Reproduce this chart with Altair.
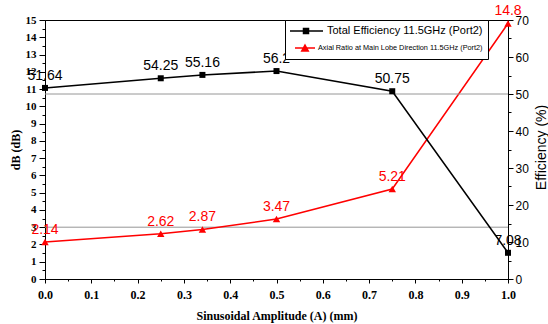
import altair as alt
import pandas as pd

# ---- data ----
amplitude = [0.0, 0.25, 0.34, 0.5, 0.75, 1.0]
efficiency = [51.64, 54.25, 55.16, 56.2, 50.75, 7.08]
axial_ratio = [2.14, 2.62, 2.87, 3.47, 5.21, 14.8]
EFF = "Total Efficiency 11.5GHz (Port2)"
AR = "Axial Ratio at Main Lobe Direction 11.5GHz (Port2)"
ar_ref = [3]
eff_ref = [50]
x_ticks = [0.0, 0.1, 0.2, 0.3, 0.4, 0.5, 0.6, 0.7, 0.8, 0.9, 1.0]
x_minor = [0.05, 0.15, 0.25, 0.35, 0.45, 0.55, 0.65, 0.75, 0.85, 0.95]
db_ticks = list(range(0, 16))
db_minor = [0.5, 1.5, 2.5, 3.5, 4.5, 5.5, 6.5, 7.5, 8.5, 9.5, 10.5, 11.5, 12.5, 13.5, 14.5]
eff_ticks = [0, 10, 20, 30, 40, 50, 60, 70]
eff_minor = [5, 15, 25, 35, 45, 55, 65]

SERIF = "Liberation Serif"
SANS = "Liberation Sans"
GRAY = "#969696"

df_eff = pd.DataFrame({"x": amplitude, "v": efficiency, "series": EFF,
                       "label": [str(v) for v in efficiency]})
df_ar = pd.DataFrame({"x": amplitude, "v": axial_ratio, "series": AR,
                      "label": [str(v) for v in axial_ratio]})
df_ar_ref = pd.DataFrame({"ref": ar_ref})
df_eff_ref = pd.DataFrame({"ref": eff_ref})

xs = alt.Scale(domain=[0, 1], nice=False, zero=False)
ys_db = alt.Scale(domain=[0, 15], nice=False)
ys_eff = alt.Scale(domain=[0, 70], nice=False)
color_scale = alt.Scale(domain=[EFF, AR], range=["black", "red"])

is_eff = f"datum.value == '{EFF}'"
legend = alt.Legend(
    title=None, orient="none", legendX=240, legendY=0, direction="vertical",
    fillColor="white", strokeColor="black", padding=5, rowPadding=5,
    labelFont=SANS, labelColor="black", labelLimit=400,
    symbolSize=100, symbolStrokeWidth=1.5,
    labelFontSize={"expr": f"{is_eff} ? 11 : 7.3"},
    labelOffset={"expr": f"{is_eff} ? 25 : 16"},
    symbolType={"expr": f"{is_eff} ? 'M-1.2,0H5.4M1.5,-0.5H2.5V0.5H1.5Z' : 'M-0.2,0H3.8M1.8,-0.6L2.45,0.6H1.15Z'"},
    symbolFillColor={"expr": f"{is_eff} ? 'black' : 'red'"},
)

x_major = alt.Axis(orient="bottom", values=x_ticks, format=".1f", tickSize=4, labelPadding=6,
                   labelFont=SERIF, labelFontWeight="bold", labelFontSize=12, labelFlush=False,
                   title="Sinusoidal Amplitude (A) (mm)", titleFont=SERIF, titleFontWeight="bold",
                   titleFontSize=12, titleY=40, titleBaseline="alphabetic", grid=False)
x_minor_axis = alt.Axis(orient="bottom", values=x_minor, labels=False, tickSize=2,
                        domain=False, title=None, grid=False)
y_db_axis = alt.Axis(orient="left", values=db_ticks, tickSize=6, labelPadding=3,
                     labelFont=SERIF, labelFontWeight="bold", labelFontSize=11,
                     title="dB (dB)", titleFont=SERIF, titleFontWeight="bold", titleFontSize=12,
                     titleAngle=270, titleX=-26, titleY=129.5, titleBaseline="alphabetic",
                     titleAlign="center", grid=False)
y_db_minor = alt.Axis(orient="left", values=db_minor, labels=False, tickSize=3,
                      domain=False, title=None, grid=False)
y_eff_axis = alt.Axis(orient="right", values=eff_ticks, tickSize=5, labelPadding=2,
                      labelFont=SANS, labelFontSize=12,
                      title="Efficiency (%)", titleFont=SANS, titleFontWeight="normal", titleFontSize=14,
                      titleAngle=270, titleX=37, titleY=127, titleBaseline="alphabetic",
                      titleAlign="center", grid=False)
y_eff_minor = alt.Axis(orient="right", values=eff_minor, labels=False, tickSize=3,
                       domain=False, title=None, grid=False)

# ---- left (dB) group: axial ratio ----
ar_rule = alt.Chart(df_ar_ref).mark_rule(color=GRAY, strokeWidth=1).encode(
    y=alt.Y("ref:Q", scale=ys_db, axis=y_db_minor))
ar_line = alt.Chart(df_ar).mark_line(strokeWidth=1.5).encode(
    x=alt.X("x:Q", scale=xs, axis=x_major),
    y=alt.Y("v:Q", scale=ys_db, axis=y_db_axis),
    color=alt.Color("series:N", scale=color_scale, legend=legend))
ar_pts = alt.Chart(df_ar).mark_point(shape="triangle-up", filled=True, size=55,
                                      color="red", opacity=1).encode(
    x=alt.X("x:Q", scale=xs, axis=x_minor_axis),
    y=alt.Y("v:Q", scale=ys_db, axis=None))
ar_txt = alt.Chart(df_ar).mark_text(dy=-12, fontSize=14, font=SANS, color="red",
                                     align="center", baseline="middle").encode(
    x=alt.X("x:Q", scale=xs, axis=None),
    y=alt.Y("v:Q", scale=ys_db, axis=None),
    text="label:N")
left = alt.layer(ar_rule, ar_line, ar_pts, ar_txt).resolve_axis(x="independent", y="independent")

# ---- right (efficiency) group ----
eff_rule = alt.Chart(df_eff_ref).mark_rule(color=GRAY, strokeWidth=1).encode(
    y=alt.Y("ref:Q", scale=ys_eff, axis=y_eff_minor))
eff_line = alt.Chart(df_eff).mark_line(strokeWidth=1.5).encode(
    x=alt.X("x:Q", scale=xs, axis=None),
    y=alt.Y("v:Q", scale=ys_eff, axis=y_eff_axis),
    color=alt.Color("series:N", scale=color_scale, legend=legend))
eff_pts = alt.Chart(df_eff).mark_point(shape="square", filled=True, size=36,
                                        color="black", opacity=1).encode(
    x=alt.X("x:Q", scale=xs, axis=None),
    y=alt.Y("v:Q", scale=ys_eff, axis=None))
eff_txt = alt.Chart(df_eff).mark_text(dy=-12, fontSize=14, font=SANS, color="black",
                                       align="center", baseline="middle").encode(
    x=alt.X("x:Q", scale=xs, axis=None),
    y=alt.Y("v:Q", scale=ys_eff, axis=None),
    text="label:N")
right = alt.layer(eff_rule, eff_line, eff_pts, eff_txt).resolve_axis(y="independent")

chart = alt.layer(left, right).resolve_scale(y="independent").properties(
    width=463, height=259,
    padding={"left": 45, "top": 20, "right": 40, "bottom": 45},
    autosize=alt.AutoSizeParams(type="none"),
).configure(background="white").configure_view(
    stroke="black", strokeWidth=1
).configure_axis(
    domainColor="black", tickColor="black", labelColor="black", titleColor="black"
)

chart.save("out.html", embed_options={"renderer": "svg", "actions": False})
